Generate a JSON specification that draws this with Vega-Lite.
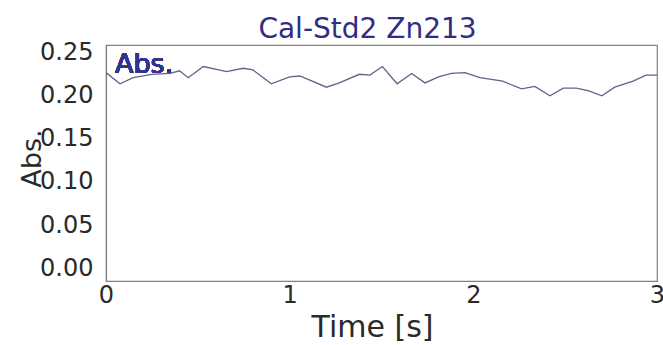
{
  "$schema": "https://vega.github.io/schema/vega-lite/v6.json",
  "autosize": {"type": "none"},
  "padding": {"left": 106, "top": 45, "right": 6, "bottom": 64},
  "width": 551,
  "height": 236,
  "background": "white",
  "config": {
    "font": "DejaVu Sans",
    "view": {"stroke": "#808080", "strokeWidth": 1.2},
    "axis": {"grid": false, "ticks": false, "domainColor": "#808080", "domainWidth": 1.2, "labelColor": "#2a2a2a", "titleColor": "#2a2a2a", "titleFontWeight": "normal"}
  },
  "title": {
    "text": "Cal-Std2 Zn213",
    "font": "DejaVu Sans",
    "fontSize": 28,
    "fontWeight": "normal",
    "color": "#2e2e86",
    "anchor": "middle",
    "frame": "group",
    "baseline": "alphabetic",
    "offset": 8,
    "dx": -14,
    "dy": 33
  },
  "data": {
    "values": [
      {"t": 0.000, "abs": 0.227},
      {"t": 0.076, "abs": 0.214},
      {"t": 0.148, "abs": 0.221},
      {"t": 0.250, "abs": 0.225},
      {"t": 0.350, "abs": 0.226},
      {"t": 0.400, "abs": 0.229},
      {"t": 0.448, "abs": 0.221},
      {"t": 0.530, "abs": 0.234},
      {"t": 0.657, "abs": 0.228},
      {"t": 0.747, "abs": 0.232},
      {"t": 0.800, "abs": 0.230},
      {"t": 0.900, "abs": 0.214},
      {"t": 1.000, "abs": 0.222},
      {"t": 1.056, "abs": 0.223},
      {"t": 1.200, "abs": 0.210},
      {"t": 1.270, "abs": 0.215},
      {"t": 1.380, "abs": 0.225},
      {"t": 1.437, "abs": 0.224},
      {"t": 1.505, "abs": 0.234},
      {"t": 1.585, "abs": 0.214},
      {"t": 1.664, "abs": 0.226},
      {"t": 1.737, "abs": 0.215},
      {"t": 1.810, "abs": 0.222},
      {"t": 1.880, "abs": 0.226},
      {"t": 1.955, "abs": 0.227},
      {"t": 2.036, "abs": 0.221},
      {"t": 2.160, "abs": 0.217},
      {"t": 2.263, "abs": 0.208},
      {"t": 2.335, "abs": 0.211},
      {"t": 2.417, "abs": 0.200},
      {"t": 2.490, "abs": 0.209},
      {"t": 2.560, "abs": 0.209},
      {"t": 2.625, "abs": 0.206},
      {"t": 2.700, "abs": 0.200},
      {"t": 2.770, "abs": 0.210},
      {"t": 2.870, "abs": 0.217},
      {"t": 2.940, "abs": 0.224},
      {"t": 3.000, "abs": 0.224}
    ]
  },
  "layer": [
    {
      "mark": {"type": "line", "color": "#62628a", "strokeWidth": 1.3, "clip": true},
      "encoding": {
        "x": {
          "field": "t",
          "type": "quantitative",
          "scale": {"domain": [0, 3], "nice": false, "zero": false},
          "axis": {"values": [0, 1, 2, 3], "format": "d", "labelFontSize": 24, "labelPadding": 2, "labelFlush": false, "title": "Time [s]", "titleFontSize": 30, "titleX": 266, "titleY": 55, "titleBaseline": "alphabetic", "titleAnchor": "start", "titleAlign": "center"}
        },
        "y": {
          "field": "abs",
          "type": "quantitative",
          "scale": {"domain": [-0.015, 0.259], "nice": false, "zero": false},
          "axis": {"values": [0, 0.05, 0.1, 0.15, 0.2, 0.25], "format": ".2f", "labelFontSize": 24, "labelPadding": 13, "labelFlush": false, "title": "Abs.", "titleFontSize": 27, "titleX": -66, "titleY": 113, "titleAngle": 270, "titleAlign": "center", "titleBaseline": "alphabetic"}
        }
      }
    },
    {
      "mark": {"type": "text", "text": "Abs.", "fontSize": 27, "color": "#33338f", "align": "left", "baseline": "alphabetic"},
      "encoding": {
        "x": {"datum": 0.049, "type": "quantitative"},
        "y": {"datum": 0.2263, "type": "quantitative"}
      }
    }
  ]
}
